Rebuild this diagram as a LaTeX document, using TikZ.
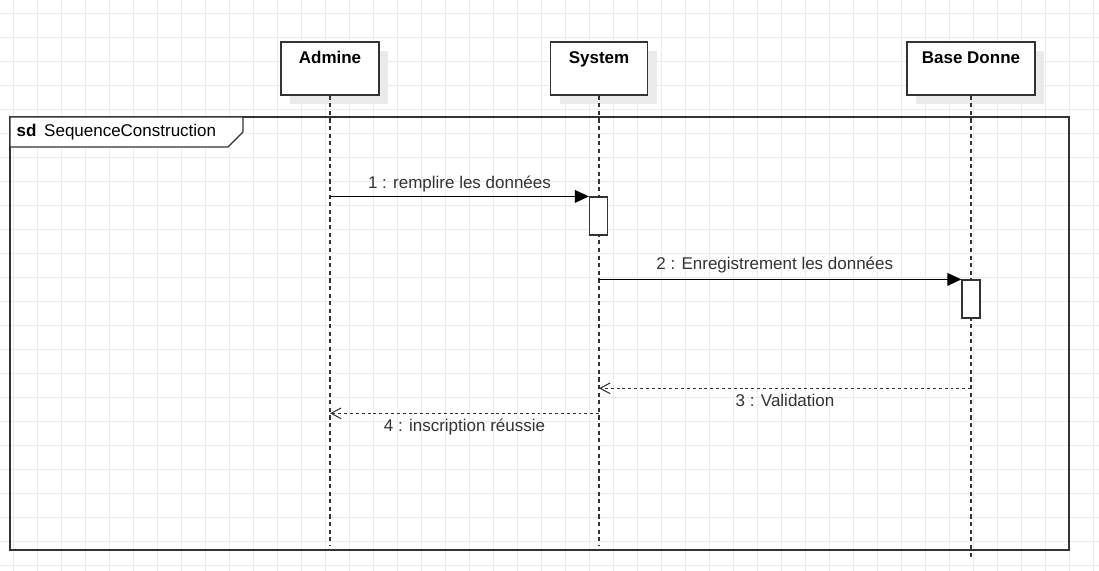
\documentclass[tikz,border=0pt]{standalone}
\usepackage{fontspec}
\setmainfont{Liberation Sans}
\usetikzlibrary{arrows.meta,shadows}
\definecolor{gridcol}{HTML}{EBEBEB}
\definecolor{inkcol}{HTML}{333333}
\definecolor{shadecol}{HTML}{EAEAEA}

\begin{document}
\begin{tikzpicture}[x=0.03cm, y=-0.03cm,
    font=\fontsize{14.5pt}{17pt}\selectfont,
    headbox/.style={draw=inkcol, line width=1.1pt, fill=white, inner sep=0pt,
        text height=0.66cm, text depth=0.93cm, minimum height=1.59cm,
        font=\fontsize{14.5pt}{17pt}\selectfont\bfseries,
        drop shadow={shadow xshift=0.27cm, shadow yshift=-0.27cm, fill=shadecol, opacity=1}},
    actbox/.style={draw=inkcol, line width=1pt, fill=white, inner sep=0pt,
        minimum width=0.54cm, minimum height=1.14cm},
    lifeline/.style={inkcol, line width=0.9pt, dash pattern=on 3.5pt off 3pt},
    callmsg/.style={black, line width=0.9pt, -{Triangle[length=0.42cm, width=0.38cm]}},
    replymsg/.style={inkcol, line width=0.9pt, dash pattern=on 2.5pt off 2.5pt,
        -{Straight Barb[length=0.3cm, width=0.32cm]}},
    msgtext/.style={text=inkcol, inner sep=0pt, anchor=base}]
%%%%%%%%%%%%%%%%%%%%%%%%%%%%%%%
% canvas + grid
%%%%%%%%%%%%%%%%%%%%%%%%%%%%%%%
\useasboundingbox (0,0) rectangle (1099,571);
\fill [white] (0,0) rectangle (1099,571);
\foreach \gx in {13,37,...,1093} \draw [gridcol, line width=0.6pt] (\gx,0) -- (\gx,571);
\foreach \gy in {13,37,...,565} \draw [gridcol, line width=0.6pt] (0,\gy) -- (1099,\gy);
%
% frame sd
\draw [inkcol, line width=1.2pt] (10,117) rectangle (1069,550);
\draw [inkcol, line width=1pt, fill=white] (10,117) -- (243,117) -- (243,132) -- (228,147) -- (10,147) -- cycle;
\node [anchor=base west, inner sep=0pt] (sdname) at (16.5,137) {\textbf{sd}\hspace{0.23cm}SequenceConstruction};
%
% heads
\node [headbox, minimum width=2.94cm] (admine) at (330,68.5) {Admine};
\node [headbox, minimum width=2.91cm] (system) at (599,68.5) {System};
\node [headbox, minimum width=3.84cm] (basedonne) at (971,68.5) {Base Donne};
%
% lifelines
\coordinate (lifeend) at (0,546);
\coordinate (baseend) at (0,560);
\draw [lifeline] (admine.south) -- (admine.south |- lifeend);
\draw [lifeline] (system.south) -- (system.south |- lifeend);
\draw [lifeline] (basedonne.south) -- (basedonne.south |- baseend);
%
% activations
\node [actbox] (sysact) at (598.5,216) {};
\node [actbox] (baseact) at (971,299) {};
%
% messages
\draw [callmsg] (admine.south |- sysact.north) -- (sysact.north west)
    node [msgtext, midway, yshift=0.24cm] (msg1) {1 : remplire les données};
\draw [callmsg] (system.south |- baseact.north) -- (baseact.north west)
    node [msgtext, pos=0.485, yshift=0.3cm] (msg2) {2 : Enregistrement les données};
\coordinate (reply3) at (0,388.3);
\coordinate (reply4) at (0,413.3);
\draw [replymsg] (basedonne.south |- reply3) -- (system.south |- reply3)
    node [msgtext, midway, yshift=-0.55cm] (msg3) {3 : Validation};
\draw [replymsg] (system.south |- reply4) -- (admine.south |- reply4)
    node [msgtext, midway, yshift=-0.55cm] (msg4) {4 : inscription réussie};
%%%%%%%%%%%%%%%%%%%%%%%%%%%%%%%
\end{tikzpicture}
\end{document}
